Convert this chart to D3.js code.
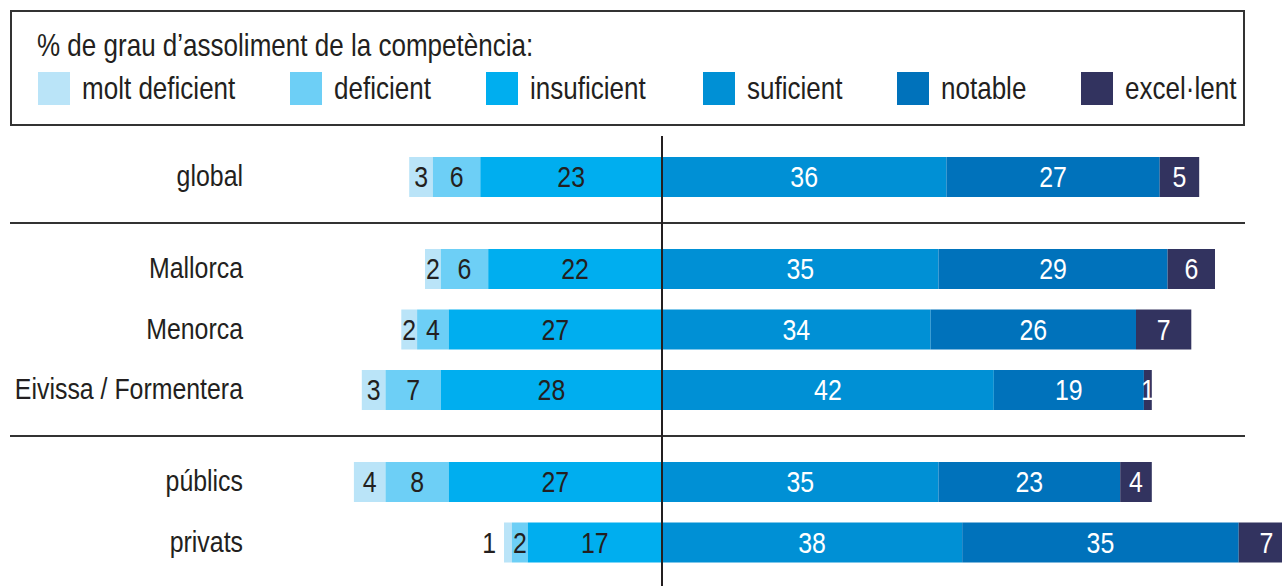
<!DOCTYPE html>
<html>
<head>
<meta charset="utf-8">
<script src="https://cdn.jsdelivr.net/npm/d3@7"></script>
<style>
  body { margin: 0; background: #fff; }
  svg text { font-family: 'Liberation Sans', Arial, sans-serif; fill: #231f20; }
</style>
</head>
<body>
<div id="root"></div>
<script>
// categories and the six levels of the scale
var categories = ['global', 'Mallorca', 'Menorca', 'Eivissa / Formentera', 'públics', 'privats'];
var groups = [0, 1, 1, 1, 2, 2];
var levels = ['molt deficient', 'deficient', 'insuficient', 'suficient', 'notable', 'excel·lent'];
var colors = ['#bae4f8', '#6dcff6', '#00aeef', '#0090d5', '#0072bb', '#32335f'];

// % per level, one value per category
var moltDeficient = [3, 2, 2, 3, 4, 1];
var deficient = [6, 6, 4, 7, 8, 2];
var insuficient = [23, 22, 27, 28, 27, 17];
var suficient = [36, 35, 34, 42, 35, 38];
var notable = [27, 29, 26, 19, 23, 35];
var excellent = [5, 6, 7, 1, 4, 7];

var series = [moltDeficient, deficient, insuficient, suficient, notable, excellent];

var w = 1282, h = 586;
var center = 662, unit = 7.9;
var barH = 40;
var squeeze = 0.83; // condensed look: tall glyphs, narrow width

var svg = d3.select('#root').append('svg')
  .attr('width', w)
  .attr('height', h);

var xScale = d3.scaleLinear()
  .domain([-40, 80])
  .range([center - 40 * unit, center + 80 * unit]);

// row centre: step per row plus extra gap per group
var yScale = function(i) { return 177 + i * 60.5 + groups[i] * 31.5; };

function place(x, y, sx) { return 'translate(' + x + ',' + y + ') scale(' + sx + ',1)'; }

// build segments: left side stacks outward from the centre
var segs = [];
categories.forEach(function(c, i) {
  var left = -(moltDeficient[i] + deficient[i] + insuficient[i]);
  var pos = left;
  series.forEach(function(s, k) {
    segs.push({ cat: i, level: k, v: s[i], x0: pos, x1: pos + s[i], first: k == 0 });
    pos += s[i];
  });
});

// legend box
var legend = svg.append('g');
legend.append('rect')
  .attr('x', 11).attr('y', 11)
  .attr('width', 1233).attr('height', 114)
  .attr('fill', 'none')
  .attr('stroke', '#333')
  .attr('stroke-width', 2);

legend.append('text')
  .attr('transform', place(37, 56, 0.84))
  .style('font-size', '31px')
  .text('% de grau d’assoliment de la competència:');

var legendX = [38, 290, 486, 703, 897, 1081];
var items = legend.selectAll('g.item')
  .data(levels).enter().append('g')
  .attr('class', 'item')
  .attr('transform', function(d, i) { return 'translate(' + legendX[i] + ',72)'; });

items.append('rect')
  .attr('width', 32).attr('height', 33)
  .attr('fill', function(d, i) { return colors[i]; });

items.append('text')
  .attr('transform', place(44, 27, 0.84))
  .style('font-size', '31px')
  .text(function(d) { return d; });

// separators between groups
var seps = [1, 4];
svg.selectAll('line.sep')
  .data(seps).enter().append('line')
  .attr('class', 'sep')
  .attr('x1', 10).attr('x2', 1245)
  .attr('y1', function(d) { return Math.round((yScale(d - 1) + yScale(d)) / 2); })
  .attr('y2', function(d) { return Math.round((yScale(d - 1) + yScale(d)) / 2); })
  .attr('stroke', '#333')
  .attr('stroke-width', 2);

// bars
svg.selectAll('rect.seg')
  .data(segs).enter().append('rect')
  .attr('class', 'seg')
  .attr('x', function(d) { return xScale(d.x0); })
  .attr('width', function(d) { return xScale(d.x1) - xScale(d.x0); })
  .attr('y', function(d) { return yScale(d.cat) - barH / 2; })
  .attr('height', barH)
  .attr('fill', function(d) { return colors[d.level]; });

// value labels (too narrow first segment -> label outside on the left)
function outside(d) { return d.first && (xScale(d.x1) - xScale(d.x0)) < 12; }

svg.selectAll('text.val')
  .data(segs).enter().append('text')
  .attr('class', 'val')
  .attr('transform', function(d) {
    var x = outside(d) ? xScale(d.x0) - 8 : (xScale(d.x0) + xScale(d.x1)) / 2;
    return place(x, yScale(d.cat) + 10, squeeze);
  })
  .attr('text-anchor', function(d) { return outside(d) ? 'end' : 'middle'; })
  .style('font-size', '30px')
  .style('fill', function(d) { return d.level > 2 ? '#fff' : '#231f20'; })
  .text(function(d) { return d.v; });

// category labels
svg.selectAll('text.cat')
  .data(categories).enter().append('text')
  .attr('class', 'cat')
  .attr('transform', function(d, i) { return place(243, yScale(i) + 9, squeeze); })
  .attr('text-anchor', 'end')
  .style('font-size', '30px')
  .text(function(d) { return d; });

// centre line
svg.append('line')
  .attr('x1', xScale(0)).attr('x2', xScale(0))
  .attr('y1', 136).attr('y2', h)
  .attr('stroke', '#231f20')
  .attr('stroke-width', 2);
</script>
</body>
</html>
